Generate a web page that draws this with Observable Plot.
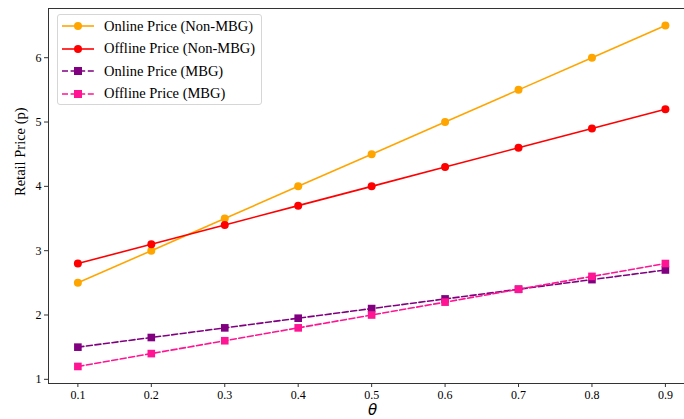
<!DOCTYPE html>
<html>
<head>
<meta charset="utf-8">
<script src="https://cdn.jsdelivr.net/npm/d3@7"></script>
<script src="https://cdn.jsdelivr.net/npm/@observablehq/plot@0.6"></script>
<style>
  html, body { margin: 0; padding: 0; background: #fff; }
  #wrap { position: relative; width: 684px; height: 419px; }
  #legend {
    position: absolute; left: 57px; top: 14px; width: 205px; height: 91px;
    border: 1px solid #d6d6d6; border-radius: 3px; background: rgba(255,255,255,0.85);
    box-sizing: border-box; font-family: "Liberation Serif", "Times New Roman", serif; font-size: 14.5px; color: #000;
  }
  .row { position: absolute; left: 3px; height: 20px; display: flex; align-items: center; }
  .row svg { width: 34px; height: 14px; margin-right: 9px; }
</style>
</head>
<body>
<div id="wrap"></div>
<script>
const theta = [0.1, 0.2, 0.3, 0.4, 0.5, 0.6, 0.7, 0.8, 0.9];
const onlineNonMBG  = [2.5, 3.0, 3.5, 4.0, 4.5, 5.0, 5.5, 6.0, 6.5];
const offlineNonMBG = [2.8, 3.1, 3.4, 3.7, 4.0, 4.3, 4.6, 4.9, 5.2];
const onlineMBG     = [1.5, 1.65, 1.8, 1.95, 2.1, 2.25, 2.4, 2.55, 2.7];
const offlineMBG    = [1.2, 1.4, 1.6, 1.8, 2.0, 2.2, 2.4, 2.6, 2.8];
const seriesNames = ["Online Price (Non-MBG)", "Offline Price (Non-MBG)", "Online Price (MBG)", "Offline Price (MBG)"];
const seriesColors = ["#FFA500", "#FF0000", "#800080", "#FF1493"];
const seriesValues = [onlineNonMBG, offlineNonMBG, onlineMBG, offlineMBG];
const seriesDashed = [false, false, true, true];
const seriesSymbol = ["circle", "circle", "square", "square"];
const yTicks = [1, 2, 3, 4, 5, 6];

const rows = [];
seriesNames.forEach((name, i) => {
  theta.forEach((t, j) => rows.push({series: name, theta: t, price: seriesValues[i][j]}));
});

const marks = [];
seriesNames.forEach((name, i) => {
  const d = rows.filter(r => r.series === name);
  marks.push(Plot.line(d, {x: "theta", y: "price", stroke: seriesColors[i], strokeWidth: 1.6, strokeDasharray: seriesDashed[i] ? "6,2.6" : null}));
});
seriesNames.forEach((name, i) => {
  const d = rows.filter(r => r.series === name);
  if (seriesSymbol[i] === "circle") {
    marks.push(Plot.dot(d, {x: "theta", y: "price", r: 4, fill: seriesColors[i], stroke: "none"}));
  } else {
    marks.push(Plot.dot(d, {x: "theta", y: "price", r: 4.3, symbol: "square", fill: seriesColors[i], stroke: "none"}));
  }
});

const chart = Plot.plot({
  width: 684, height: 419,
  marginLeft: 48, marginRight: 0, marginTop: 8, marginBottom: 36,
  style: {fontFamily: "'Liberation Serif', 'Times New Roman', serif", fontSize: "12px", color: "#000", background: "#fff"},
  x: {domain: [0.06, 0.926], label: null},
  y: {domain: [0.935, 6.765], label: null},
  marks: [
    Plot.frame({anchor: "top", stroke: "#333"}),
    Plot.frame({anchor: "left", stroke: "#333"}),
    Plot.frame({anchor: "bottom", stroke: "#333"}),
    Plot.axisX({ticks: theta, tickFormat: d => d.toFixed(1), tickSize: 4, tickPadding: 3, label: null, stroke: "#333"}),
    Plot.axisY({ticks: yTicks, tickFormat: d => String(d), tickSize: 4, tickPadding: 3, label: null, stroke: "#333"}),
    ...marks,
    Plot.text(["θ"], {frameAnchor: "bottom", dy: 31, dx: 6, fontSize: 15, fontStyle: "italic", fontFamily: "DejaVu Sans", text: d => d}),
    Plot.text(["Retail Price (p)"], {frameAnchor: "left", dx: -28, rotate: -90, fontSize: 14.5, text: d => d})
  ]
});

const wrap = document.getElementById("wrap");
wrap.appendChild(chart);

const legend = document.createElement("div");
legend.id = "legend";
seriesNames.forEach((name, i) => {
  const row = document.createElement("div");
  row.className = "row";
  row.style.top = (1 + i * 22.5) + "px";
  const dash = seriesDashed[i] ? 'stroke-dasharray="6,2.6"' : "";
  const marker = seriesSymbol[i] === "circle"
    ? `<circle cx="17" cy="7" r="4" fill="${seriesColors[i]}"/>`
    : `<rect x="13" y="3" width="8" height="8" fill="${seriesColors[i]}"/>`;
  row.innerHTML = `<svg viewBox="0 0 34 14"><line x1="1" y1="7" x2="33" y2="7" stroke="${seriesColors[i]}" stroke-width="1.6" ${dash}/>${marker}</svg><span>${name}</span>`;
  legend.appendChild(row);
});
wrap.appendChild(legend);
</script>
</body>
</html>
